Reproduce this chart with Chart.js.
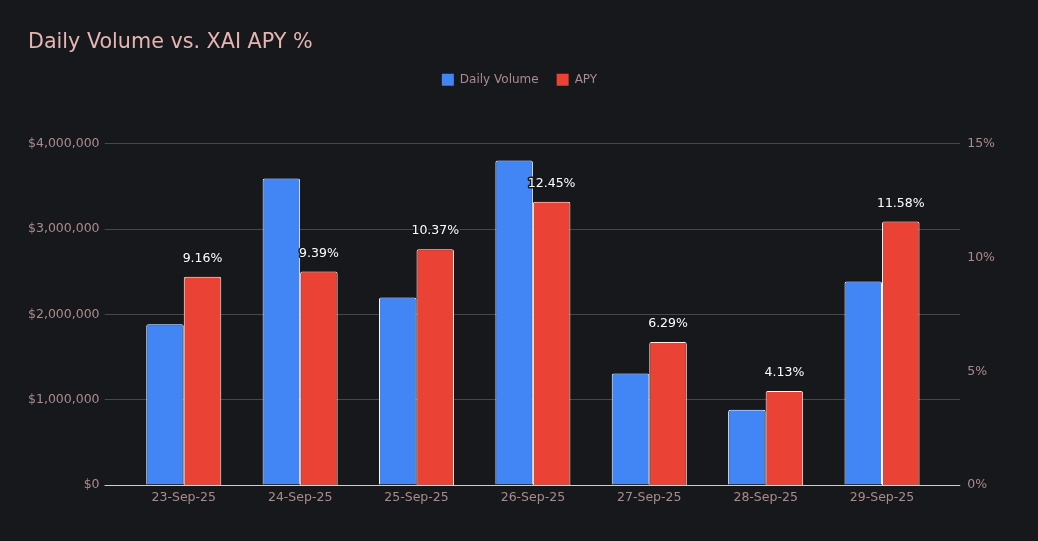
<!DOCTYPE html>
<html>
<head>
<meta charset="utf-8">
<script src="https://cdn.jsdelivr.net/npm/chart.js@4"></script>
<style>
  html, body { margin: 0; padding: 0; background: #17181c; }
  #wrap { width: 1038px; height: 541px; }
</style>
</head>
<body>
<div id="wrap"><canvas id="volChart" width="1038" height="541"></canvas></div>
<script>
// data
const days = ["23-Sep-25", "24-Sep-25", "25-Sep-25", "26-Sep-25", "27-Sep-25", "28-Sep-25", "29-Sep-25"];
const dailyVolume = [1885000, 3593000, 2197000, 3804000, 1306000, 883000, 2385000];
const apy = [9.16, 9.39, 10.37, 12.45, 6.29, 4.13, 11.58];
const volumeTicks = [0, 1000000, 2000000, 3000000, 4000000];
const apyTicks = [0, 5, 10, 15];

const bg = "#17181c";
const tickColor = "#a98c8c";
const gridColor = "#46474b";
const baseColor = "#cfcfcf";
const font = "DejaVu Sans";

// white value labels above the APY bars
const apyLabels = {
  id: "apyLabels",
  afterDatasetsDraw(chart) {
    const ctx = chart.ctx;
    const meta = chart.getDatasetMeta(1);
    ctx.save();
    ctx.font = "12.5px '" + font + "'";
    ctx.textAlign = "center";
    ctx.textBaseline = "middle";
    ctx.lineJoin = "round";
    meta.data.forEach((bar, i) => {
      const txt = apy[i].toFixed(2) + "%";
      ctx.lineWidth = 3;
      ctx.strokeStyle = bg;
      ctx.strokeText(txt, bar.x, bar.y - 18);
      ctx.fillStyle = "#ffffff";
      ctx.fillText(txt, bar.x, bar.y - 18);
    });
    ctx.restore();
  }
};

// extra room between legend and plot
const legendGap = {
  id: "legendGap",
  beforeInit(chart) {
    const origFit = chart.legend.fit;
    chart.legend.fit = function () {
      origFit.bind(chart.legend)();
      this.height += 48;
    };
  }
};

const canvasEl = document.getElementById("volChart");
const config = {
  type: "bar",
  data: {
    labels: days,
    datasets: [
      {
        label: "Daily Volume",
        data: dailyVolume,
        yAxisID: "y",
        backgroundColor: "#4285f4",
        borderColor: "#ffffff",
        borderWidth: 1,
        borderRadius: 2,
        categoryPercentage: 0.645,
        barPercentage: 1.0,
      },
      {
        label: "APY",
        data: apy,
        yAxisID: "y1",
        backgroundColor: "#ea4335",
        borderColor: "#ffffff",
        borderWidth: 1,
        borderRadius: 2,
        categoryPercentage: 0.645,
        barPercentage: 1.0,
      },
    ],
  },
  options: {
    responsive: false,
    animation: false,
    devicePixelRatio: 1,
    layout: { padding: { top: 19, left: 28, right: 27, bottom: 31 } },
    plugins: {
      title: {
        display: true,
        text: "Daily Volume vs. XAI APY %",
        align: "start",
        color: "#e6b4b3",
        font: { family: font, size: 20.7, weight: "normal" },
        padding: { top: 11, bottom: 1 },
      },
      legend: {
        position: "top",
        labels: {
          color: tickColor,
          font: { family: font, size: 12 },
          boxWidth: 12,
          boxHeight: 12,
          padding: 18,
          generateLabels(chart) {
            const items = Chart.defaults.plugins.legend.labels.generateLabels(chart);
            items.forEach((it) => { it.strokeStyle = it.fillStyle; it.lineWidth = 0; });
            return items;
          },
        },
      },
      tooltip: { enabled: false },
    },
    scales: {
      x: {
        grid: { display: false, drawTicks: false },
        border: { display: false },
        ticks: { color: tickColor, font: { family: font, size: 12.5 }, padding: 5 },
      },
      y: {
        position: "left",
        min: 0,
        max: 4000000,
        afterBuildTicks(scale) { scale.ticks = volumeTicks.map((v) => ({ value: v })); },
        afterFit(scale) { scale.width -= 5; },
        border: { display: false },
        grid: {
          color: (c) => (c.tick && c.tick.value === 0 ? baseColor : gridColor),
          tickLength: 21,
        },
        ticks: {
          color: tickColor,
          font: { family: font, size: 12.5 },
          padding: 5,
          callback: (v) => "$" + Number(v).toLocaleString("en-US"),
        },
      },
      // only carries the right-hand stubs of the volume gridlines
      yStub: {
        position: "right",
        weight: 0,
        min: 0,
        max: 4000000,
        afterBuildTicks(scale) { scale.ticks = volumeTicks.map((v) => ({ value: v })); },
        border: { display: false },
        grid: {
          drawOnChartArea: false,
          color: (c) => (c.tick && c.tick.value === 0 ? baseColor : gridColor),
          tickLength: 20,
        },
        ticks: { display: false },
      },
      y1: {
        position: "right",
        weight: 1,
        min: 0,
        max: 15,
        afterBuildTicks(scale) { scale.ticks = apyTicks.map((v) => ({ value: v })); },
        afterFit(scale) { scale.width += 9; },
        border: { display: false },
        grid: { display: false, drawTicks: false },
        ticks: {
          color: tickColor,
          font: { family: font, size: 12.5 },
          padding: 7,
          callback: (v) => v + "%",
        },
      },
    },
  },
  plugins: [legendGap, apyLabels],
};
const volChart = new Chart(canvasEl, config);
</script>
</body>
</html>
